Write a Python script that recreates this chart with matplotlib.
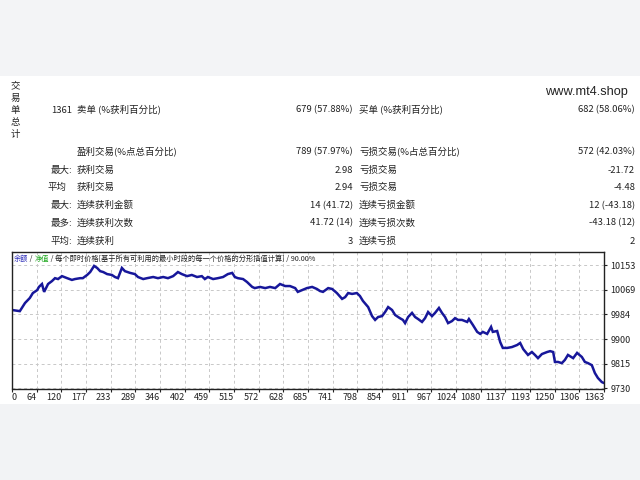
import numpy as np
import matplotlib.pyplot as plt
from matplotlib.patches import Rectangle

plt.rcParams['font.family'] = ['Noto Sans CJK SC', 'DejaVu Sans']

# Equity curve (trade number, balance)
trades = [0, 18, 30, 41, 48, 58, 62, 69, 74, 83, 92, 99, 106, 115, 127, 138, 145,
          157, 163, 173, 180, 189, 196, 203, 210, 219, 230, 237, 244, 253, 260,
          272, 283, 290, 302, 311, 325, 336, 348, 359, 371, 382, 391, 403, 414,
          426, 437, 444, 451, 463, 474, 486, 497, 507, 513, 520, 532, 541, 553,
          559, 571, 583, 594, 606, 617, 629, 640, 652, 658, 668, 679, 691, 702,
          709, 716, 728, 737, 748, 760, 767, 774, 783, 794, 801, 808, 820, 829,
          836, 843, 852, 859, 866, 875, 882, 893, 900, 905, 912, 921, 928, 935,
          944, 951, 958, 967, 974, 983, 990, 997, 1004, 1013, 1020, 1027, 1036,
          1048, 1052, 1061, 1071, 1078, 1084, 1094, 1103, 1107, 1117, 1124, 1130,
          1140, 1151, 1163, 1170, 1177, 1188, 1197, 1204, 1211, 1220, 1232, 1239,
          1246, 1250, 1257, 1266, 1273, 1280, 1292, 1301, 1312, 1319, 1326, 1335,
          1342, 1349, 1358, 1361]
equity = [9999, 9995, 10023, 10040, 10057, 10067, 10078, 10088, 10061, 10088,
          10098, 10108, 10105, 10115, 10108, 10102, 10105, 10108, 10108, 10119,
          10129, 10150, 10143, 10132, 10129, 10122, 10119, 10112, 10108, 10143,
          10132, 10126, 10122, 10112, 10105, 10108, 10112, 10108, 10112, 10108,
          10115, 10129, 10122, 10115, 10119, 10112, 10115, 10105, 10112, 10105,
          10108, 10112, 10122, 10126, 10112, 10108, 10105, 10095, 10078, 10074,
          10078, 10074, 10078, 10074, 10088, 10081, 10081, 10074, 10061, 10067,
          10074, 10078, 10071, 10064, 10061, 10074, 10071, 10057, 10037, 10043,
          10057, 10054, 10057, 10047, 10030, 10009, 9978, 9965, 9975, 9978, 9992,
          10009, 9999, 9982, 9971, 9965, 9954, 9975, 9989, 9975, 9968, 9958, 9971,
          9992, 9978, 9989, 10006, 9989, 9975, 9954, 9961, 9971, 9965, 9965, 9958,
          9968, 9948, 9924, 9917, 9924, 9917, 9941, 9924, 9927, 9889, 9869, 9869,
          9872, 9879, 9886, 9865, 9845, 9855, 9845, 9834, 9848, 9855, 9858, 9855,
          9821, 9821, 9817, 9828, 9845, 9834, 9852, 9838, 9821, 9817, 9810, 9783,
          9766, 9752, 9750]

x_tick_labels = ['0', '64', '120', '177', '233', '289', '346', '402', '459', '515',
                 '572', '628', '685', '741', '798', '854', '911', '967', '1024',
                 '1080', '1137', '1193', '1250', '1306', '1363']
y_tick_labels = ['9730', '9815', '9900', '9984', '10069', '10153']

# Summary table
total_trades = '1361'
sell_label, sell_value = '卖单 (%获利百分比)', '679 (57.88%)'
buy_label, buy_value = '买单 (%获利百分比)', '682 (58.06%)'
row_heads = ['', '最大:', '平均', '最大:', '最多:', '平均:']
left_items = ['盈利交易(%点总百分比)', '获利交易', '获利交易', '连续获利金额', '连续获利次数', '连续获利']
left_values = ['789 (57.97%)', '2.98', '2.94', '14 (41.72)', '41.72 (14)', '3']
right_items = ['亏损交易(%占总百分比)', '亏损交易', '亏损交易', '连续亏损金额', '连续亏损次数', '连续亏损']
right_values = ['572 (42.03%)', '-21.72', '-4.48', '12 (-43.18)', '-43.18 (12)', '2']

W, H = 640, 480
fig = plt.figure(figsize=(6.4, 4.8), dpi=100)
fig.patch.set_facecolor('white')

# grey bands at top and bottom
fig.patches.append(Rectangle((0, 1 - 76 / H), 1, 76 / H, transform=fig.transFigure,
                             facecolor='#f3f4f6', edgecolor='none', zorder=-10))
fig.patches.append(Rectangle((0, 0), 1, 76 / H, transform=fig.transFigure,
                             facecolor='#f2f3f5', edgecolor='none', zorder=-10))


def put(x, y, s, ha='left', size=6.8, **kw):
    # y is the visual centre of the row; place on a common baseline
    fig.text(x / W, 1 - (y + 3.6) / H, s, ha=ha, va='baseline', fontsize=size,
             color='#222222', **kw)


for i, ch in enumerate('交易单总计'):
    put(15.3, 85 + 12 * i, ch, ha='center')

put(628, 91, 'www.mt4.shop', ha='right', size=9.2, family=['Liberation Sans', 'DejaVu Sans'])

put(72, 109, total_trades, ha='right')
put(77, 109, sell_label)
put(353, 109, sell_value, ha='right')
put(359, 109, buy_label)
put(635, 109, buy_value, ha='right')

row_y = [150.7, 169, 186.7, 204.3, 222, 240]
for k, y in enumerate(row_y):
    head = row_heads[k]
    put(67 if head == '平均' else 72, y, head, ha='right')
    put(77, y, left_items[k])
    put(353, y, left_values[k], ha='right')
    put(359, y, right_items[k])
    put(635, y, right_values[k], ha='right')

# Equity chart
ax = fig.add_axes([12 / W, 1 - 388.5 / H, 592 / W, 136.8 / H])
ax.plot(trades, equity, color='#17179a', linewidth=1.8, solid_joinstyle='miter')

x_max = 1363
y_min, y_step = 9730, 423 / 5
ax.set_xlim(0, x_max)
ax.set_ylim(y_min, y_min + 5.54 * y_step)

xt = np.linspace(0, x_max, len(x_tick_labels))
ax.set_xticks(xt)
ax.set_xticklabels(x_tick_labels)
for lab in ax.get_xticklabels()[1:]:
    lab.set_ha('right')
ax.get_xticklabels()[0].set_ha('left')

yt = y_min + y_step * np.arange(len(y_tick_labels))
ax.set_yticks(yt)
ax.set_yticklabels(y_tick_labels)
ax.yaxis.tick_right()

ax.tick_params(axis='x', length=2, pad=1.5, labelsize=6.5, colors='#222222')
ax.tick_params(axis='y', length=2, pad=2.5, labelsize=6.5, colors='#222222')
ax.grid(True, color='#c8c8c8', linestyle=(0, (3, 3)), linewidth=0.7)
for sp in ax.spines.values():
    sp.set_color('#222222')
    sp.set_linewidth(1)

# coloured header inside the chart
t1 = ax.text(2 / 592, 1 - 7 / 136.8, '余额', transform=ax.transAxes, fontsize=5.2,
             color='#3333bb', va='center')
t2 = ax.annotate(' / ', xy=(1, 0), xycoords=t1, va='bottom', fontsize=5.2, color='#222222')
t3 = ax.annotate('净值', xy=(1, 0), xycoords=t2, va='bottom', fontsize=5.2, color='#22aa22')
t4 = ax.annotate(' / 每个即时价格[基于所有可利用的最小时段的每一个价格的分形插值计算] / 90.00%',
                 xy=(1, 0), xycoords=t3, va='bottom', fontsize=5.2, color='#222222')

fig.savefig('out.png', dpi=100, facecolor=fig.get_facecolor())
